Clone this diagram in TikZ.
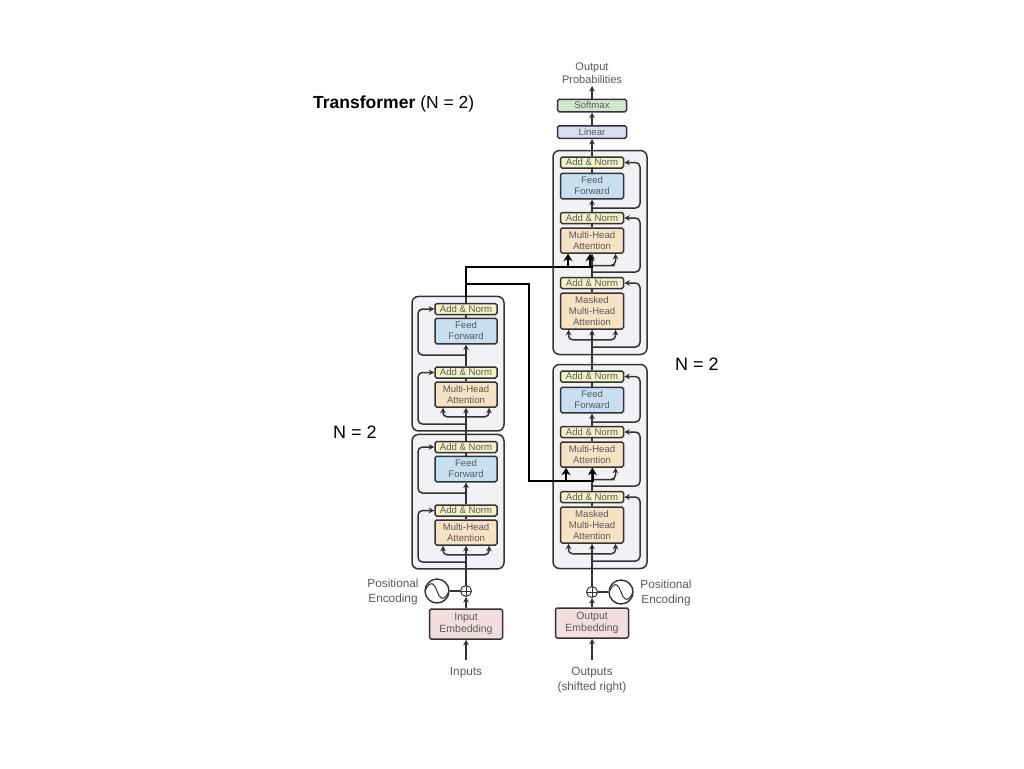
\documentclass[tikz,border=0pt]{standalone}
\usepackage{fontspec}
\setmainfont{Liberation Sans}
\usetikzlibrary{arrows.meta,calc}
\definecolor{ink}{HTML}{333333}
\definecolor{txt}{HTML}{5A5A5A}
\definecolor{framefill}{HTML}{F2F2F6}
\definecolor{ancol}{HTML}{F2F3C6}
\definecolor{ffcol}{HTML}{C6E0F1}
\definecolor{mhcol}{HTML}{F7E2C4}
\definecolor{embcol}{HTML}{F2DEDE}
\definecolor{smcol}{HTML}{D2E6CE}
\definecolor{lincol}{HTML}{DCDDF1}
\tikzset{
  box/.style={draw=ink,line width=1.5pt,rounded corners=1.6pt,inner sep=0pt,align=center,text=txt,
    font=\fontsize{9.6}{11}\selectfont},
  anbox/.style={box,fill=ancol,minimum height=11pt},
  ffbox/.style={box,fill=ffcol,minimum height=25.5pt},
  mhbox/.style={box,fill=mhcol,minimum height=25pt},
  maskbox/.style={box,fill=mhcol,minimum height=36pt},
  embbox/.style={box,fill=embcol,minimum width=73pt,minimum height=30pt,font=\fontsize{10.5}{12.5}\selectfont},
  topbox/.style={box,minimum width=69pt,minimum height=12.5pt},
  frame/.style={draw=ink,line width=1.5pt,fill=framefill,rounded corners=6.5pt,inner sep=0pt},
  wire/.style={draw=ink,line width=1.5pt},
  arr/.style={wire,-{Stealth[length=5.5pt,width=5.5pt]}},
  darr/.style={wire,{Stealth[length=5.5pt,width=5.5pt]}-{Stealth[length=5.5pt,width=5.5pt]}},
  boldwire/.style={draw=black,line width=2pt},
  boldarr/.style={boldwire,-{Stealth[length=7.5pt,width=9pt]}},
  lab/.style={text=txt,align=center,inner sep=0pt,font=\fontsize{11.8}{15}\selectfont},
  biglab/.style={text=black,inner sep=0pt,font=\fontsize{18}{20}\selectfont},
  adder/.style={draw=ink,line width=1pt,circle,minimum size=11pt,inner sep=0pt,
    path picture={\draw[ink,line width=0.9pt] (path picture bounding box.north)--(path picture bounding box.south)
      (path picture bounding box.west)--(path picture bounding box.east);}},
  wave/.style={draw=ink,line width=1.4pt,circle,minimum size=24pt,inner sep=0pt,
    path picture={\draw[ink,line width=1pt] (path picture bounding box.west)
      .. controls ($(path picture bounding box.center)+(-6,-13)$) and ($(path picture bounding box.center)+(-2,-6)$) .. (path picture bounding box.center)
      .. controls ($(path picture bounding box.center)+(2,6)$) and ($(path picture bounding box.center)+(6,13)$) .. (path picture bounding box.east);}}
}
% encoder block: #1 name prefix, #2 vertical offset
\newcommand{\encblock}[2]{
  \begin{scope}[shift={(0,#2)}]
    \node[frame,minimum width=92pt,minimum height=134.5pt] (#1frame) at (458,363.7) {};
    \node[anbox,minimum width=62pt] (#1anb) at (466,309) {Add \& Norm};
    \node[ffbox,minimum width=62pt] (#1ff) at (466,331) {Feed\\Forward};
    \node[anbox,minimum width=62pt] (#1ana) at (466,372.5) {Add \& Norm};
    \node[mhbox,minimum width=62pt] (#1mh) at (466,394.5) {Multi-Head\\Attention};
    \coordinate (#1resa) at (466,424);
    \coordinate (#1resb) at (466,355);
    \draw[darr,rounded corners=4pt] ($(#1mh.south)+(-23,0)$) -- ++(0,9) -- ++(46,0) -- ++(0,-9);
    \draw[arr,rounded corners=4.5pt] (#1resa) -| (418,372.5) -- (#1ana.west);
    \draw[arr,rounded corners=4.5pt] (#1resb) -| (418,309) -- (#1anb.west);
    \draw[wire] (#1mh.north) -- (#1ana.south);
    \draw[arr] (#1ana.north) -- (#1ff.south);
    \draw[wire] (#1ff.north) -- (#1anb.south);
  \end{scope}
}
% decoder block: #1 name prefix, #2 vertical offset
\newcommand{\decblock}[2]{
  \begin{scope}[shift={(0,#2)}]
    \node[frame,minimum width=94pt,minimum height=204pt] (#1frame) at (600,252.5) {};
    \node[anbox,minimum width=63pt] (#1anc) at (592,162.5) {Add \& Norm};
    \node[ffbox,minimum width=63pt] (#1ff) at (592,186) {Feed\\Forward};
    \node[anbox,minimum width=63pt] (#1anb) at (592,218) {Add \& Norm};
    \node[mhbox,minimum width=63pt] (#1mh) at (592,240.5) {Multi-Head\\Attention};
    \node[anbox,minimum width=63pt] (#1ana) at (592,283) {Add \& Norm};
    \node[maskbox,minimum width=63pt] (#1ms) at (592,311) {Masked\\Multi-Head\\Attention};
    \coordinate (#1resa) at (592,347);
    \coordinate (#1brch) at (592,265.5);
    \coordinate (#1resb) at (592,272);
    \coordinate (#1resc) at (592,208);
    \draw[darr,rounded corners=4pt] ($(#1ms.south)+(-23.5,0)$) -- ++(0,10) -- ++(47,0) -- ++(0,-10);
    \draw[arr,rounded corners=4.5pt] (#1brch) -- (610,265.5) -- (615.5,265.5) -- ($(#1mh.south)+(23.5,0)$);
    \draw[arr,rounded corners=4.5pt] (#1resa) -| (640,283) -- (#1ana.east);
    \draw[arr,rounded corners=4.5pt] (#1resb) -| (640,218) -- (#1anb.east);
    \draw[arr,rounded corners=4.5pt] (#1resc) -| (640,162.5) -- (#1anc.east);
    \draw[wire] (#1ms.north) -- (#1ana.south);
    \draw[arr] (#1ana.north) -- (#1mh.south);
    \draw[wire] (#1mh.north) -- (#1anb.south);
    \draw[arr] (#1anb.north) -- (#1ff.south);
    \draw[wire] (#1ff.north) -- (#1anc.south);
  \end{scope}
}
\begin{document}
\begin{tikzpicture}[x=1pt,y=-1pt]
  \useasboundingbox (0,0) rectangle (1024,768);
  \fill[white] (0,0) rectangle (1024,768);

  \encblock{et}{0}
  \encblock{eb}{138}
  \decblock{dt}{0}
  \decblock{db}{214}

  % encoder column
  \node[embbox] (iemb) at (466,624) {Input\\Embedding};
  \node[adder] (eadd) at (466,591) {};
  \node[wave] (epe) at (437,591) {};
  \node[lab] (inputs) at (466,672.5) {Inputs};
  \node[lab] (epelab) at (393,592) {Positional\\Encoding};
  \coordinate (inarrow) at (466,660);
  \draw[arr] (inarrow) -- (iemb.south);
  \draw[arr] (iemb.north) -- (eadd.south);
  \draw[wire] (epe.east) -- (eadd.west);
  \draw[arr] (eadd.north) -- (ebmh.south);
  \draw[arr] (ebanb.north) -- (etmh.south);

  % decoder column
  \node[embbox] (oemb) at (592,623) {Output\\Embedding};
  \node[adder] (dadd) at (592,592) {};
  \node[wave] (dpe) at (621,592) {};
  \node[lab] (outputs) at (592,680) {Outputs\\[0pt]{\fontsize{11.8}{15}\selectfont (shifted right)}};
  \node[lab] (dpelab) at (666,593) {Positional\\Encoding};
  \coordinate (outarrow) at (592,660);
  \draw[arr] (outarrow) -- (oemb.south);
  \draw[arr] (oemb.north) -- (dadd.south);
  \draw[wire] (dpe.west) -- (dadd.east);
  \draw[arr] (dadd.north) -- (dbms.south);
  \draw[arr] (dbanc.north) -- (dtms.south);

  % top of the decoder
  \node[topbox,fill=lincol] (linear) at (592,132) {Linear};
  \node[topbox,fill=smcol] (softmax) at (592,105.5) {Softmax};
  \node[lab,font=\fontsize{11}{13}\selectfont] (outprob) at (592,73) {Output\\Probabilities};
  \coordinate (probarrow) at (592,86);
  \draw[arr] (dtanc.north) -- (linear.south);
  \draw[arr] (linear.north) -- (softmax.south);
  \draw[arr] (softmax.north) -- (probarrow);

  % encoder output into the decoders
  \coordinate (wtop) at (466,267);
  \coordinate (wlow) at (466,284);
  \coordinate (wdown) at (528.5,284);
  \coordinate (wbot) at (528.5,481);
  \coordinate (wendt) at (592.5,267);
  \coordinate (wendb) at (592.5,481);
  \coordinate (tl) at ($(dtmh.south)+(-24,14)$);
  \coordinate (tr) at ($(dtmh.south)+(-2,14)$);
  \coordinate (bl) at ($(dbmh.south)+(-26,14)$);
  \coordinate (br) at ($(dbmh.south)+(0.5,14)$);
  \draw[wire] (etanb.north) -- (466,295);
  \draw[boldwire] (466,297) -- (wtop) -- (wendt);
  \draw[boldwire] (wlow) -- (wdown) -- (wbot) -- (wendb);
  \draw[boldarr] (tl) -- ($(dtmh.south)+(-24,0)$);
  \draw[boldarr] (tr) -- ($(dtmh.south)+(-2,0)$);
  \draw[boldarr] (bl) -- ($(dbmh.south)+(-26,0)$);
  \draw[boldarr] (br) -- ($(dbmh.south)+(0.5,0)$);

  % captions
  \node[biglab,anchor=west] (title) at (313,103.5) {\textbf{\fontsize{17.5}{20}\selectfont Transformer} {\fontsize{17.5}{20}\selectfont (N = 2)}};
  \node[biglab,anchor=west] (nleft) at (333,432.5) {N = 2};
  \node[biglab,anchor=west] (nright) at (675,364.5) {N = 2};
\end{tikzpicture}
\end{document}
